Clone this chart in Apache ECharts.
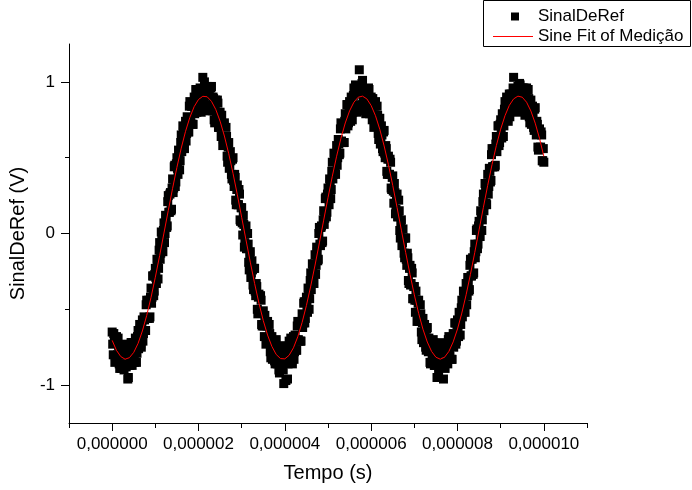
<!DOCTYPE html>
<html><head><meta charset="utf-8">
<script src="https://cdn.jsdelivr.net/npm/echarts@6/dist/echarts.min.js"></script>
<style>html,body{margin:0;padding:0;background:#fff}#c{width:692px;height:490px}</style>
</head><body><div id="c"></div><script>
// Axis ticks
const xMajorTicks = [0, 2e-6, 4e-6, 6e-6, 8e-6, 1e-5];
const xMinorTicks = [-1e-6, 1e-6, 3e-6, 5e-6, 7e-6, 9e-6, 1.1e-5];
const yMajorTicks = [-1, 0, 1];
const yMinorTicks = [-0.5, 0.5];

// Measured signal "SinalDeRef" (V), channel samples every 0.025 µs starting at 0 s
const measStartS = 0;
const measStepS = 0.025e-6;
const measured = [
-0.65,-0.80,-0.71,-0.81, -0.68,-0.80,-0.74,-0.89, -0.74,-0.86,-0.80,-0.90, -0.73,-0.88,-0.78,-0.95,
-0.76,-0.84,-0.72,-0.85, -0.72,-0.85,-0.73,-0.79, -0.64,-0.73,-0.63,-0.75, -0.57,-0.66,-0.57,-0.64,
-0.44,-0.56,-0.44,-0.55, -0.36,-0.42,-0.28,-0.38, -0.23,-0.33,-0.19,-0.23, -0.06,-0.13,-0.02,-0.12,
0.07,0.00,0.10,0.05, 0.25,0.14,0.27,0.16, 0.36,0.30,0.45,0.34, 0.50,0.39,0.53,0.48,
0.65,0.57,0.67,0.56, 0.74,0.66,0.74,0.67, 0.87,0.73,0.84,0.72, 0.90,0.82,0.94,0.81,
0.94,0.81,0.93,0.85, 1.03,0.88,0.95,0.81, 0.97,0.85,0.91,0.81, 0.97,0.81,0.89,0.73,
0.88,0.77,0.86,0.70, 0.80,0.64,0.72,0.62, 0.73,0.59,0.64,0.47, 0.60,0.45,0.48,0.36,
0.50,0.31,0.37,0.19, 0.32,0.19,0.26,0.08, 0.17,-0.01,0.06,-0.06, 0.05,-0.10,-0.07,-0.24,
-0.12,-0.26,-0.24,-0.37, -0.23,-0.41,-0.35,-0.53, -0.40,-0.52,-0.44,-0.61, -0.51,-0.68,-0.59,-0.70,
-0.58,-0.71,-0.66,-0.82, -0.68,-0.80,-0.75,-0.86, -0.70,-0.86,-0.77,-0.92, -0.77,-0.86,-0.75,-0.99,
-0.77,-0.97,-0.79,-0.86, -0.71,-0.81,-0.73,-0.86, -0.68,-0.78,-0.70,-0.77, -0.58,-0.71,-0.59,-0.71,
-0.53,-0.59,-0.45,-0.56, -0.42,-0.52,-0.38,-0.43, -0.26,-0.33,-0.23,-0.33, -0.14,-0.21,-0.12,-0.17,
0.04,-0.08,0.05,-0.05, 0.15,0.10,0.24,0.14, 0.30,0.19,0.34,0.29, 0.47,0.39,0.49,0.39,
0.58,0.50,0.59,0.53, 0.73,0.60,0.72,0.60, 0.79,0.72,0.85,0.73, 0.87,0.74,0.87,0.80,
0.96,0.85,0.93,0.80, 0.97,1.08,0.92,0.83, 1.01,0.85,0.94,0.79, 0.95,0.85,0.95,0.80,
0.90,0.75,0.84,0.74, 0.87,0.74,0.78,0.62, 0.76,0.62,0.65,0.54, 0.68,0.50,0.56,0.39,
0.51,0.39,0.47,0.29, 0.38,0.20,0.27,0.16, 0.26,0.11,0.15,-0.03, 0.09,-0.06,-0.03,-0.16,
-0.03,-0.21,-0.16,-0.33, -0.21,-0.33,-0.26,-0.43, -0.35,-0.52,-0.44,-0.55, -0.44,-0.57,-0.53,-0.70,
-0.56,-0.69,-0.65,-0.77, -0.62,-0.78,-0.71,-0.86, -0.72,-0.82,-0.72,-0.87, -0.76,-0.95,-0.79,-0.88,
-0.74,-0.85,-0.77,-0.96, -0.75,-0.85,-0.78,-0.86, -0.68,-0.81,-0.71,-0.83, -0.66,-0.72,-0.59,-0.71,
-0.57,-0.68,-0.55,-0.60, -0.44,-0.52,-0.42,-0.52, -0.33,-0.41,-0.32,-0.37, -0.17,-0.28,-0.16,-0.26,
-0.07,-0.12,0.03,-0.07, 0.08,-0.02,0.13,0.09, 0.26,0.19,0.30,0.19, 0.39,0.31,0.41,0.35,
0.56,0.44,0.56,0.45, 0.64,0.58,0.71,0.60, 0.75,0.63,0.76,0.71, 0.87,0.77,0.86,0.74,
0.92,0.82,0.89,0.81, 1.03,0.84,0.94,0.80, 0.97,0.87,0.98,0.84, 0.96,0.81,0.91,0.82,
0.96,0.83,0.89,0.73, 0.88,0.75,0.79,0.68, 0.83,0.65,0.72,0.55, 0.69,0.57,0.65,0.48,
0.47
];

// Interleaved samples of the same signal, every 0.025 µs starting at 0.0125 µs
const measStart2S = 0.0125e-6;
const measured2 = [
-0.73,-0.66,-0.85,-0.71, -0.82,-0.69,-0.86,-0.78, -0.89,-0.76,-0.88,-0.75, -0.86,-0.78,-0.96,-0.80,
-0.87,-0.72,-0.87,-0.75, -0.80,-0.69,-0.85,-0.68, -0.76,-0.60,-0.73,-0.62, -0.71,-0.55,-0.64,-0.47,
-0.56,-0.45,-0.56,-0.42, -0.46,-0.28,-0.41,-0.27, -0.29,-0.17,-0.30,-0.11, -0.17,0.01,-0.11,0.02,
-0.06,0.12,0.04,0.21, 0.14,0.26,0.15,0.30, 0.27,0.44,0.31,0.46, 0.43,0.55,0.42,0.60,
0.54,0.71,0.57,0.69, 0.61,0.77,0.67,0.84, 0.75,0.84,0.72,0.85, 0.79,0.95,0.80,0.92,
0.87,0.96,0.80,0.95, 0.87,1.00,0.84,0.93, 0.82,0.95,0.82,0.96, 0.84,0.90,0.75,0.85,
0.76,0.88,0.70,0.79, 0.71,0.78,0.58,0.71, 0.59,0.70,0.51,0.57, 0.43,0.54,0.39,0.49,
0.35,0.39,0.22,0.29, 0.19,0.29,0.09,0.17, 0.07,0.12,-0.09,0.03, -0.10,0.00,-0.19,-0.14,
-0.29,-0.18,-0.34,-0.23, -0.38,-0.33,-0.50,-0.42, -0.52,-0.41,-0.60,-0.52, -0.61,-0.54,-0.73,-0.61,
-0.72,-0.60,-0.78,-0.71, -0.83,-0.71,-0.84,-0.71, -0.83,-0.76,-0.90,-0.80, -0.88,-0.74,-0.90,-0.79,
-0.84,-0.75,-0.96,-0.76, -0.84,-0.69,-0.83,-0.73, -0.83,-0.67,-0.77,-0.61, -0.70,-0.60,-0.71,-0.58,
-0.62,-0.46,-0.59,-0.45, -0.48,-0.36,-0.50,-0.31, -0.37,-0.20,-0.32,-0.20, -0.27,-0.09,-0.18,0.00,
-0.07,0.04,-0.06,0.09, 0.06,0.23,0.11,0.26, 0.23,0.36,0.23,0.41, 0.36,0.53,0.40,0.52,
0.45,0.62,0.52,0.69, 0.61,0.72,0.60,0.74, 0.69,0.85,0.71,0.84, 0.80,0.90,0.75,0.91,
0.83,0.98,0.83,0.93, 0.82,0.96,0.84,0.99, 0.87,0.95,0.81,0.91, 0.83,0.96,0.79,0.89,
0.82,0.89,0.70,0.84, 0.73,0.84,0.66,0.73, 0.59,0.71,0.56,0.67, 0.53,0.58,0.41,0.49,
0.39,0.49,0.30,0.37, 0.28,0.33,0.13,0.24, 0.11,0.22,0.02,0.07, -0.08,0.03,-0.13,-0.03,
-0.17,-0.13,-0.31,-0.23, -0.34,-0.23,-0.43,-0.35, -0.44,-0.38,-0.58,-0.46, -0.58,-0.47,-0.65,-0.59,
-0.72,-0.60,-0.75,-0.63, -0.75,-0.69,-0.85,-0.75, -0.83,-0.70,-0.87,-0.77, -0.84,-0.75,-0.93,-0.78,
-0.87,-0.72,-0.88,-0.79, -0.89,-0.74,-0.85,-0.70, -0.80,-0.70,-0.83,-0.70, -0.75,-0.59,-0.73,-0.60,
-0.64,-0.52,-0.67,-0.49, -0.55,-0.38,-0.51,-0.39, -0.47,-0.29,-0.38,-0.21, -0.28,-0.17,-0.27,-0.12,
-0.16,0.02,-0.10,0.05, 0.02,0.15,0.02,0.21, 0.15,0.33,0.20,0.33, 0.26,0.43,0.34,0.52,
0.44,0.55,0.44,0.59, 0.54,0.71,0.58,0.72, 0.68,0.79,0.64,0.82, 0.75,0.90,0.76,0.87,
0.77,0.92,0.81,0.96, 0.86,0.95,0.81,0.92, 0.86,0.99,0.83,0.94, 0.88,0.96,0.78,0.92,
0.82,0.95,0.77,0.85, 0.72,0.84,0.70,0.82, 0.69,0.74,0.57,0.66, 0.56,0.67,0.48,0.56
];

// Sine fit curve "Sine Fit of Medição" (V), every 0.1 µs starting at 0 s
const fitStartS = 0;
const fitStepS = 0.1e-6;
const fitValues = [
-0.705,-0.771,-0.812,-0.829,-0.819,-0.784,-0.725,-0.643,-0.541,-0.422,
-0.288,-0.146,0.003,0.152,0.298,0.436,0.563,0.674,0.766,0.837,
0.884,0.905,0.902,0.872,0.818,0.741,0.643,0.527,0.396,0.255,
0.107,-0.042,-0.189,-0.330,-0.459,-0.574,-0.670,-0.745,-0.798,-0.825,
-0.827,-0.803,-0.754,-0.681,-0.587,-0.475,-0.347,-0.208,-0.062,0.088,
0.236,0.378,0.510,0.628,0.729,0.809,0.866,0.899,0.906,0.888,
0.844,0.777,0.687,0.578,0.454,0.317,0.171,0.022,-0.126,-0.270,
-0.405,-0.527,-0.631,-0.716,-0.778,-0.816,-0.829,-0.816,-0.778,-0.715,
-0.630,-0.525,-0.404,-0.269,-0.125,0.024,0.173,0.318,0.455,0.580,
0.688,0.777,0.845,0.888,0.906,0.899,0.866,0.808,0.728,0.627,0.509
];

const seriesNames = ['SinalDeRef', 'Sine Fit of Medição'];
const xAxisName = 'Tempo (s)';
const yAxisName = 'SinalDeRef (V)';

const measPairs = measured.map((v, i) => [measStartS + i * measStepS, v])
  .concat(measured2.map((v, i) => [measStart2S + i * measStepS, v]));
const fitPairs = fitValues.map((v, i) => [fitStartS + i * fitStepS, v]);

const FONT = '"Liberation Sans", Arial, sans-serif';
const X_MIN = -1e-6, X_MAX = 1.1e-5, Y_MIN = -1.25, Y_MAX = 1.25;

const chart = echarts.init(document.getElementById('c'), null, {renderer: 'canvas'});
chart.setOption({
  animation: false,
  backgroundColor: '#fff',
  textStyle: {fontFamily: FONT},
  grid: {left: 69, right: 105, top: 44, bottom: 67, containLabel: false, outerBoundsMode: 'none'},
  legend: [
    {
      data: [{name: seriesNames[0], icon: 'rect'}],
      left: 511, top: 8, itemWidth: 8, itemHeight: 8, padding: 0,
      selectedMode: false,
      textStyle: {fontFamily: FONT, fontSize: 17, color: '#000', padding: [0, 0, 0, 14]}
    },
    {
      data: [{name: seriesNames[1], icon: 'rect'}],
      left: 493, top: 28, itemWidth: 40, itemHeight: 1, padding: 0,
      selectedMode: false,
      textStyle: {fontFamily: FONT, fontSize: 17, color: '#000'}
    }
  ],
  graphic: [
    {type: 'rect', shape: {x: 483.5, y: 0.5, width: 207, height: 46},
     style: {fill: 'none', stroke: '#000', lineWidth: 1}, z: 100, silent: true}
  ],
  xAxis: [
    {
      type: 'value', min: X_MIN, max: X_MAX,
      name: xAxisName, nameLocation: 'middle', nameGap: 40,
      nameTextStyle: {fontFamily: FONT, fontSize: 20, color: '#000'},
      axisLine: {show: true, onZero: false, lineStyle: {color: '#000', width: 1}},
      axisTick: {show: true, inside: false, length: 8, customValues: xMajorTicks, lineStyle: {color: '#000'}},
      axisLabel: {show: true, margin: 13, customValues: xMajorTicks, fontFamily: FONT, fontSize: 17, color: '#000',
        formatter: v => v.toFixed(6).replace('.', ',')},
      splitLine: {show: false}
    },
    {
      type: 'value', min: X_MIN, max: X_MAX, position: 'bottom',
      axisLine: {show: false, onZero: false},
      axisTick: {show: true, inside: false, length: 5, customValues: xMinorTicks, lineStyle: {color: '#000'}},
      axisLabel: {show: false},
      splitLine: {show: false}
    }
  ],
  yAxis: [
    {
      type: 'value', min: Y_MIN, max: Y_MAX,
      name: yAxisName, nameLocation: 'middle', nameGap: 37, nameRotate: 90,
      nameTextStyle: {fontFamily: FONT, fontSize: 20, color: '#000'},
      axisLine: {show: true, onZero: false, lineStyle: {color: '#000', width: 1}},
      axisTick: {show: true, inside: false, length: 8, customValues: yMajorTicks, lineStyle: {color: '#000'}},
      axisLabel: {show: true, margin: 14, customValues: yMajorTicks, fontFamily: FONT, fontSize: 17, color: '#000',
        formatter: v => String(v)},
      splitLine: {show: false}
    },
    {
      type: 'value', min: Y_MIN, max: Y_MAX, position: 'left',
      axisLine: {show: false, onZero: false},
      axisTick: {show: true, inside: false, length: 4, customValues: yMinorTicks, lineStyle: {color: '#000'}},
      axisLabel: {show: false},
      splitLine: {show: false}
    }
  ],
  series: [
    {
      name: seriesNames[0], type: 'scatter', xAxisIndex: 0, yAxisIndex: 0,
      symbol: 'rect', symbolSize: 9,
      itemStyle: {color: '#000', opacity: 1},
      data: measPairs, z: 2
    },
    {
      name: seriesNames[1], type: 'line', xAxisIndex: 0, yAxisIndex: 0,
      showSymbol: false, symbol: 'none', smooth: false,
      lineStyle: {color: '#ff0000', width: 1},
      itemStyle: {color: '#ff0000'},
      data: fitPairs, z: 3
    }
  ]
});
</script></body></html>
